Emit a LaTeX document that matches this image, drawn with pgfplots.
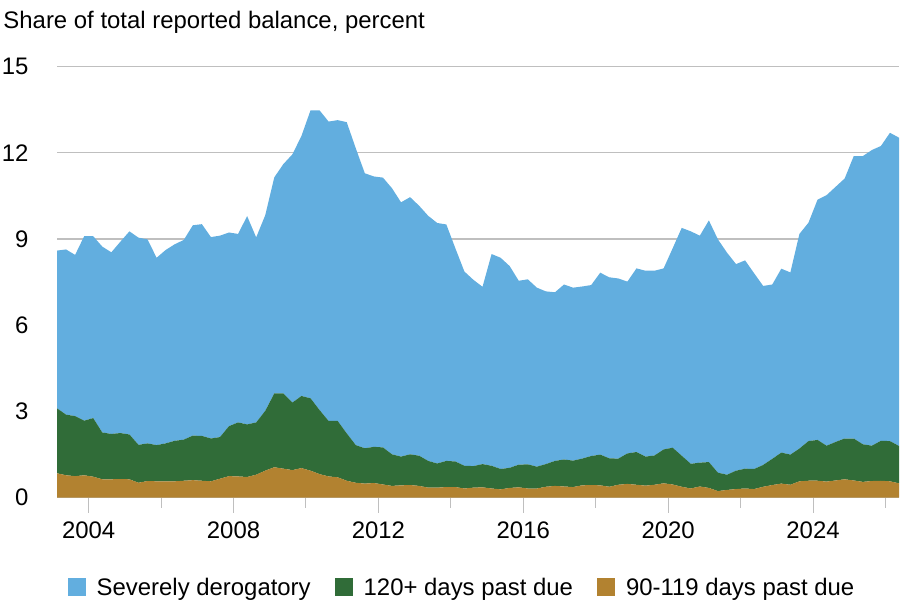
\documentclass[border=0pt]{standalone}
\usepackage{fontspec}
\setmainfont{Liberation Sans}
\usepackage{pgfplots}
\usepackage{pgfplotstable}
\pgfplotsset{compat=1.18}

\definecolor{sevblue}{RGB}{98,174,223}
\definecolor{duegreen}{RGB}{48,108,56}
\definecolor{dueorange}{RGB}{178,130,48}
\definecolor{gridgray}{RGB}{191,191,191}

% quarterly shares of total reported balance, percent
% d90 = 90-119 days, d120 = 120+ days, sev = severely derogatory
\pgfplotstableread{
date     d90  d120 sev
2003.125 0.85 2.26 5.49
2003.375 0.78 2.11 5.75
2003.625 0.75 2.09 5.61
2003.875 0.78 1.90 6.42
2004.125 0.73 2.04 6.33
2004.375 0.64 1.63 6.47
2004.625 0.64 1.58 6.32
2004.875 0.65 1.60 6.66
2005.125 0.64 1.56 7.07
2005.375 0.52 1.32 7.21
2005.625 0.58 1.31 7.10
2005.875 0.57 1.26 6.52
2006.125 0.57 1.32 6.73
2006.375 0.57 1.41 6.84
2006.625 0.59 1.43 6.95
2006.875 0.61 1.55 7.32
2007.125 0.59 1.56 7.37
2007.375 0.57 1.49 7.01
2007.625 0.66 1.45 7.01
2007.875 0.75 1.74 6.74
2008.125 0.74 1.88 6.56
2008.375 0.72 1.83 7.25
2008.625 0.80 1.82 6.44
2008.875 0.94 2.08 6.81
2009.125 1.06 2.57 7.52
2009.375 1.01 2.62 7.98
2009.625 0.96 2.35 8.64
2009.875 1.03 2.51 9.05
2010.125 0.94 2.52 10.02
2010.375 0.82 2.23 10.43
2010.625 0.74 1.93 10.42
2010.875 0.71 1.96 10.47
2011.125 0.59 1.65 10.83
2011.375 0.52 1.31 10.33
2011.625 0.49 1.23 9.57
2011.875 0.51 1.26 9.41
2012.125 0.46 1.29 9.39
2012.375 0.41 1.10 9.26
2012.625 0.43 1.00 8.85
2012.875 0.44 1.07 8.95
2013.125 0.41 1.05 8.70
2013.375 0.35 0.93 8.53
2013.625 0.35 0.84 8.37
2013.875 0.37 0.91 8.23
2014.125 0.37 0.89 7.42
2014.375 0.32 0.79 6.76
2014.625 0.35 0.75 6.48
2014.875 0.36 0.81 6.17
2015.125 0.32 0.79 7.37
2015.375 0.29 0.71 7.35
2015.625 0.34 0.70 7.02
2015.875 0.36 0.79 6.40
2016.125 0.32 0.84 6.44
2016.375 0.32 0.76 6.23
2016.625 0.38 0.79 6.01
2016.875 0.41 0.87 5.87
2017.125 0.39 0.94 6.09
2017.375 0.37 0.92 6.02
2017.625 0.43 0.93 5.99
2017.875 0.44 1.01 5.95
2018.125 0.43 1.07 6.33
2018.375 0.38 0.99 6.30
2018.625 0.45 0.91 6.27
2018.875 0.48 1.06 5.98
2019.125 0.45 1.14 6.39
2019.375 0.42 1.01 6.47
2019.625 0.45 1.02 6.43
2019.875 0.50 1.18 6.30
2020.125 0.46 1.28 6.94
2020.375 0.38 1.08 7.93
2020.625 0.32 0.86 8.09
2020.875 0.39 0.83 7.90
2021.125 0.34 0.90 8.41
2021.375 0.23 0.64 8.12
2021.625 0.27 0.53 7.73
2021.875 0.30 0.64 7.19
2022.125 0.32 0.69 7.25
2022.375 0.30 0.70 6.81
2022.625 0.38 0.76 6.23
2022.875 0.44 0.91 6.07
2023.125 0.49 1.08 6.40
2023.375 0.45 1.05 6.34
2023.625 0.57 1.14 7.47
2023.875 0.59 1.38 7.60
2024.125 0.59 1.42 8.36
2024.375 0.56 1.25 8.72
2024.625 0.60 1.34 8.88
2024.875 0.64 1.42 9.05
2025.125 0.60 1.46 9.83
2025.375 0.55 1.31 10.03
2025.625 0.58 1.23 10.29
2025.875 0.59 1.39 10.26
2026.125 0.57 1.40 10.73
2026.375 0.50 1.30 10.73
}\balances

\begin{document}
\begin{tikzpicture}
  \useasboundingbox (0bp,0bp) rectangle (920bp,607bp);
  \node[anchor=base west, inner sep=0pt, font=\fontsize{24}{28}\selectfont]
    at (3.3bp,578.7bp) {Share of total reported balance, percent};
  \begin{axis}[
      at={(57bp,109.3bp)}, anchor=south west,
      width=842bp, height=431bp, scale only axis,
      xmin=2003.125, xmax=2026.375,
      ymin=0, ymax=15,
      stack plots=y,
      axis lines=left,
      x axis line style={draw=gridgray, line width=1.2bp, -},
      y axis line style={draw=none},
      ytick={0,3,...,15},
      ymajorgrids,
      grid style={gridgray, line width=1.2bp},
      ytick style={draw=none},
      xtick={2004,2008,...,2024},
      minor xtick={2006,2010,...,2026},
      tick align=outside,
      xtick style={gridgray, line width=1bp},
      major tick length=15bp,
      minor tick length=10bp,
      tick label style={font=\fontsize{24}{28}\selectfont,
        /pgf/number format/assume math mode=true},
      x tick label style={/pgf/number format/1000 sep={}, yshift=-6bp},
      y tick label style={xshift=-10bp},
      legend style={at={(0.481,-0.208)}, anchor=center, draw=none, fill=none,
        legend columns=3, font=\fontsize{24}{28}\selectfont,
        /tikz/every odd column/.append style={column sep=9bp},
        /tikz/every even column/.append style={column sep=22bp}},
      legend image code/.code={\fill[#1] (0bp,-9bp) rectangle (18bp,9bp);},
      reverse legend,
    ]
    \addplot[draw=none, fill=dueorange] table[x=date, y=d90] {\balances} \closedcycle;
    \addlegendentry{90-119 days past due}
    \addplot[draw=none, fill=duegreen] table[x=date, y=d120] {\balances} \closedcycle;
    \addlegendentry{120+ days past due}
    \addplot[draw=none, fill=sevblue] table[x=date, y=sev] {\balances} \closedcycle;
    \addlegendentry{Severely derogatory}
  \end{axis}
\end{tikzpicture}
\end{document}
